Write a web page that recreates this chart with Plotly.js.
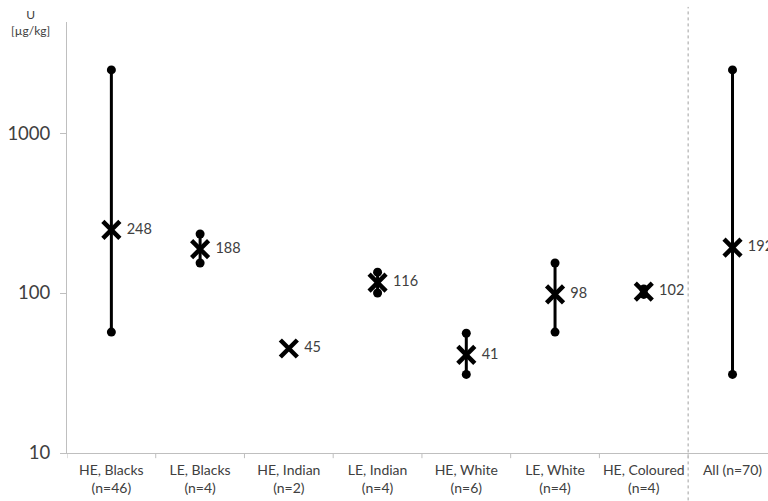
<!DOCTYPE html>
<html>
<head>
<meta charset="utf-8">
<script src="https://cdn.plot.ly/plotly-3.0.1.min.js"></script>
<style>html,body{margin:0;padding:0;background:#fff;}#chart{width:768px;height:501px;}</style>
</head>
<body>
<div id="chart"></div>
<script>
var categories = ["HE, Blacks<br>(n=46)", "LE, Blacks<br>(n=4)", "HE, Indian<br>(n=2)", "LE, Indian<br>(n=4)", "HE, White<br>(n=6)", "LE, White<br>(n=4)", "HE, Coloured<br>(n=4)", "All (n=70)"];
var meanValues = [248, 188, 45, 116, 41, 98, 102, 192];
var minValues = [57, 154, null, 100, 31, 57, 98, 31];
var maxValues = [2480, 234, null, 135, 56, 154, 106, 2480];
var yTickVals = [10, 100, 1000];
var yTickText = ["10", "100", "1000"];

var rx = [], ry = [];
for (var i = 0; i < categories.length; i++) {
  if (minValues[i] !== null) {
    rx.push(i, i, null);
    ry.push(minValues[i], maxValues[i], null);
  }
}
var idx = categories.map(function(c, i){ return i; });

var rangeTrace = {
  x: rx, y: ry, type: 'scatter', mode: 'lines+markers',
  line: {color: '#000', width: 3},
  marker: {symbol: 'circle', size: 9, color: '#000'},
  hoverinfo: 'skip', showlegend: false, connectgaps: false
};
var meanTrace = {
  x: idx, y: meanValues, type: 'scatter', mode: 'markers+text',
  marker: {symbol: 'x-thin', size: 17, line: {color: '#000', width: 4.5}, color: '#000'},
  text: meanValues.map(function(v){ return '\u00a0' + v; }), textposition: 'middle right',
  textfont: {family: 'Lato, "Open Sans", sans-serif', size: 14.5, color: '#404040'},
  showlegend: false, cliponaxis: false
};

var layout = {
  width: 768, height: 501,
  margin: {l: 67, r: 0, t: 22, b: 48},
  paper_bgcolor: '#fff', plot_bgcolor: '#fff',
  showlegend: false,
  xaxis: {
    type: 'linear', range: [-0.5, 7.4],
    tickmode: 'array', tickvals: idx, ticktext: categories,
    showgrid: false, zeroline: false,
    showline: true, linecolor: '#bfbfbf', linewidth: 1,
    ticks: '', ticklabelstandoff: 4,
    tickfont: {family: 'Lato, "Open Sans", sans-serif', size: 14, color: '#404040'}
  },
  yaxis: {
    type: 'log', range: [1, 3.694],
    tickmode: 'array', tickvals: yTickVals, ticktext: yTickText,
    showgrid: false, zeroline: false,
    showline: true, linecolor: '#bfbfbf', linewidth: 1,
    ticks: 'outside', ticklen: 6, tickcolor: '#bfbfbf',
    ticklabelstandoff: 6,
    tickfont: {family: 'Lato, "Open Sans", sans-serif', size: 18.5, color: '#404040'}
  },
  shapes: [
    {type: 'line', xref: 'x', yref: 'paper', x0: 6.5, x1: 6.5, y0: -0.11, y1: 1.035,
     line: {color: '#a0a0a0', width: 1, dash: 'dot'}}
  ].concat([-0.5,0.5,1.5,2.5,3.5,4.5,5.5,6.5].map(function(b){
    return {type: 'line', xref: 'x', yref: 'paper', x0: b, x1: b, y0: 0, y1: -0.012,
            line: {color: '#bfbfbf', width: 1}};
  })),
  annotations: [
    {text: 'U<br>[µg/kg]', xref: 'paper', yref: 'paper', x: -0.022, y: 1.04,
     xanchor: 'right', yanchor: 'top', showarrow: false, align: 'center',
     font: {family: 'Lato, "Open Sans", sans-serif', size: 12, color: '#404040'}}
  ]
};

Plotly.newPlot('chart', [rangeTrace, meanTrace], layout, {displayModeBar: false, staticPlot: true});
</script>
</body>
</html>
